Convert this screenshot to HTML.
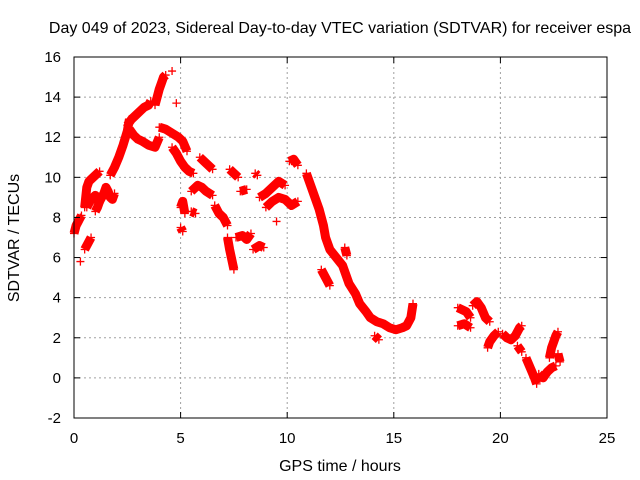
<!DOCTYPE html>
<html><head><meta charset="utf-8"><style>
body{margin:0;background:#fff}
svg{display:block;font-family:"Liberation Sans",sans-serif}
</style></head><body>
<svg id="chart" width="640" height="480" viewBox="0 0 640 480">
<rect width="640" height="480" fill="#fff"/>
<text x="340" y="33" text-anchor="middle" font-size="16">Day 049 of 2023, Sidereal Day-to-day VTEC variation (SDTVAR) for receiver espa</text>
<text x="340" y="471" text-anchor="middle" font-size="16">GPS time / hours</text>
<text transform="translate(19,238) rotate(-90)" text-anchor="middle" font-size="16">SDTVAR / TECUs</text>
<g id="grid"></g><g id="marks"></g><g id="axes"></g>
</svg>
<script>
const xTicks=[0,5,10,15,20,25];
const yTicks=[-2,0,2,4,6,8,10,12,14,16];
// null separates separate arcs
const times=[0,0.05,0.1,0.15,0.2,0.25,0.3,0.35,null,0.3,null,
0.5,0.6,0.7,0.8,null,
0.5,0.55,0.6,0.7,0.8,0.9,1.0,1.1,1.2,null,
0.6,0.7,0.8,0.9,1.0,1.1,1.2,null,
1.0,1.1,1.2,1.3,1.4,1.5,1.6,1.7,1.8,1.9,null,
1.7,1.9,2.1,2.3,2.5,2.6,null,
2.5,2.7,2.9,3.1,3.3,3.5,3.6,null,
3.8,3.9,4.0,4.1,4.2,4.3,null,4.6,null,4.8,null,
2.6,2.8,3.0,3.2,3.5,3.8,4.0,null,
4.0,4.3,4.6,4.9,5.1,5.3,null,
4.6,4.8,5.0,5.2,5.4,5.6,null,
5.9,6.1,6.3,6.5,null,
5.5,5.8,6.0,6.2,6.5,null,
5.0,5.1,5.2,null,5.0,5.1,null,5.5,5.7,null,
6.6,6.8,7.0,7.2,null,
7.3,7.5,7.7,null,
7.2,7.3,7.4,7.5,null,
7.6,7.9,8.1,8.3,null,
7.8,8.1,null,8.5,8.6,null,
8.4,8.7,8.9,null,
8.7,9.0,9.3,9.6,9.9,null,
9.0,9.3,9.6,9.9,10.2,10.5,null,9.5,null,
10.1,10.3,10.5,null,
10.9,11.1,11.3,11.5,11.7,11.8,12.0,12.3,12.6,12.9,13.2,13.4,13.7,13.9,14.2,14.5,14.8,15.1,15.4,15.6,15.8,15.9,null,
11.6,11.8,12.0,null,12.7,12.8,null,14.1,14.3,null,
18.0,18.2,18.4,18.6,null,18.0,18.3,18.6,null,
18.7,18.9,19.1,19.3,19.5,null,
19.4,19.5,19.7,19.9,null,
20.1,20.3,20.5,20.7,20.9,21.0,null,20.8,21.0,null,
21.2,21.4,21.6,21.7,null,
21.8,22.0,22.2,22.4,22.6,null,
22.3,22.4,22.5,22.6,22.7,null,22.7,22.8];
const values=[7.2,7.4,7.6,7.7,7.8,7.9,8.0,8.1,null,5.8,null,
6.4,6.6,6.8,7.0,null,
8.5,9.0,9.5,9.8,9.9,10.0,10.1,10.2,10.3,null,
8.5,8.7,8.9,9.0,9.1,8.9,8.7,null,
8.3,8.5,8.8,9.0,9.2,9.5,9.3,9.0,8.9,9.2,null,
10.1,10.5,11.0,11.6,12.3,12.9,null,
12.6,12.9,13.1,13.3,13.5,13.6,13.8,null,
13.6,14.0,14.4,14.7,15.0,15.1,null,15.3,null,13.7,null,
12.4,12.1,11.9,11.8,11.6,11.5,12.0,null,
12.5,12.4,12.2,12.0,11.8,11.3,null,
11.5,11.2,10.8,10.5,10.3,10.2,null,
11.0,10.8,10.6,10.4,null,
9.3,9.6,9.5,9.3,9.1,null,
8.5,8.8,8.2,null,7.5,7.3,null,8.3,8.2,null,
8.6,8.2,8.0,7.6,null,
10.4,10.2,10.0,null,
7.0,6.4,5.9,5.4,null,
7.0,7.1,6.9,7.2,null,
9.3,9.4,null,10.2,10.1,null,
6.4,6.6,6.5,null,
9.0,9.2,9.5,9.8,9.6,null,
8.5,8.8,9.0,8.9,8.6,8.8,null,7.8,null,
10.8,10.9,10.6,null,
10.2,9.6,9.0,8.4,7.6,7.0,6.4,6.0,5.6,4.7,4.2,3.7,3.3,3.0,2.8,2.7,2.5,2.4,2.5,2.6,3.0,3.7,null,
5.4,5.0,4.6,null,6.5,6.1,null,2.1,1.9,null,
3.5,3.4,3.3,3.0,null,2.6,2.7,2.5,null,
3.6,3.8,3.5,3.0,2.8,null,
1.5,1.8,2.1,2.3,null,
2.2,2.0,1.9,2.1,2.5,2.6,null,1.6,1.3,null,
1.0,0.5,0.0,-0.3,null,
0.2,0.0,0.3,0.5,0.6,null,
1.0,1.5,1.8,2.1,2.3,null,1.2,0.8];
const L=74,R=607,T=57,B=418;
const xs=t=>L+(t-0)/(25-0)*(R-L);
const ys=v=>B-(v+2)/(16+2)*(B-T);
const NS='http://www.w3.org/2000/svg';
function mk(tag,parent){const e=document.createElementNS(NS,tag);parent.appendChild(e);return e;}
const grid=document.getElementById('grid'),axes=document.getElementById('axes'),marks=document.getElementById('marks');
xTicks.forEach(t=>{const x=xs(t);
 if(t>0&&t<25){const g=mk('line',grid);g.setAttribute('x1',x);g.setAttribute('x2',x);g.setAttribute('y1',T);g.setAttribute('y2',B);g.setAttribute('stroke','#a0a0a0');g.setAttribute('stroke-dasharray','2,3');
 
 }
 [[B,B-6],[T,T+6]].forEach(p=>{const k=mk('line',axes);k.setAttribute('x1',x);k.setAttribute('x2',x);k.setAttribute('y1',p[0]);k.setAttribute('y2',p[1]);k.setAttribute('stroke','#000');
 
 });
 const l=mk('text',axes);l.setAttribute('x',x);l.setAttribute('y',443);l.setAttribute('text-anchor','middle');l.setAttribute('font-size','15');l.textContent=t;
 
 
});
yTicks.forEach(v=>{const y=ys(v);
 if(v>-2&&v<16){const g=mk('line',grid);g.setAttribute('x1',L);g.setAttribute('x2',R);g.setAttribute('y1',y);g.setAttribute('y2',y);g.setAttribute('stroke','#a0a0a0');g.setAttribute('stroke-dasharray','2,3');
 
 }
 [[L,L+6],[R,R-6]].forEach(p=>{const k=mk('line',axes);k.setAttribute('x1',p[0]);k.setAttribute('x2',p[1]);k.setAttribute('y1',y);k.setAttribute('y2',y);k.setAttribute('stroke','#000');
 
 });
 const l=mk('text',axes);l.setAttribute('x',61);l.setAttribute('y',y+5);l.setAttribute('text-anchor','end');l.setAttribute('font-size','15');l.textContent=v;
 
 
});
const box=mk('rect',axes);box.setAttribute('x',L);box.setAttribute('y',T);box.setAttribute('width',R-L);box.setAttribute('height',B-T);box.setAttribute('fill','none');box.setAttribute('stroke','#000');


let seg=[];
function flush(){if(seg.length>1){const p=mk('polyline',marks);p.setAttribute('points',seg.map(q=>q.join(',')).join(' '));p.setAttribute('fill','none');p.setAttribute('stroke','#f00');p.setAttribute('stroke-width','9');p.setAttribute('stroke-linejoin','round');
 
 }seg=[];}
for(let i=0;i<times.length;i++){
 if(times[i]===null||values[i]===null){flush();continue;}
 const x=xs(times[i]),y=ys(values[i]);seg.push([x,y]);
 const m=mk('path',marks);m.setAttribute('d',`M${x-4},${y}h8M${x},${y-4}v8`);m.setAttribute('stroke','#f00');m.setAttribute('stroke-width','1.3');
 
 
}
flush();
</script>
</body></html>
